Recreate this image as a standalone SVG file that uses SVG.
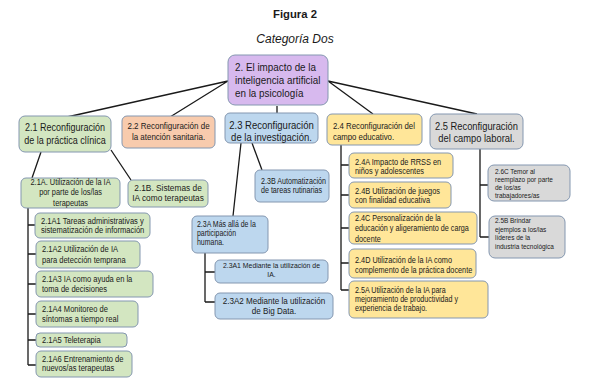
<svg xmlns="http://www.w3.org/2000/svg" width="590" height="389" viewBox="0 0 590 389">
<style>
text{font-family:"Liberation Sans",Arial,sans-serif;fill:#1a1a1a}
.n text{transform:scaleX(.85);transform-box:fill-box;transform-origin:left center}
.n text.c{transform-origin:center center}
.box{stroke:#8497b0;stroke-width:1}
.pu{fill:#d7b9ee}
.gr{fill:#d3e6c1}
.or{fill:#f8cbad}
.bl{fill:#bdd7ee}
.ye{fill:#ffe699}
.gy{fill:#d9d9d9}
.t0{font-size:11.6px}
.t1{font-size:10.6px}
.t2{font-size:9.2px}
.t3{font-size:8.7px}
.t4{font-size:8.9px}
.t5{font-size:8.4px}
.c{text-anchor:middle}
.ln{stroke:#1a1a1a;stroke-width:1.3;fill:none}
</style>
<text x="295" y="18" class="c" style="font-weight:bold;font-size:11.3px">Figura 2</text>
<text x="295" y="43" class="c" style="font-style:italic;font-size:12px">Categoría Dos</text>
<g id="connectors">
<path class="ln" d="M228,81 L67,117 M228,81 L170,117 M277,106 V113 M328,81 L373,114 M328,81 L477,114"/>
<path class="ln" d="M41,152 L32,178 M111,150 L131,180"/>
<path class="ln" d="M28,208 V365 M28,225 H35 M28,254 H36 M28,284 H36 M28,314 H36 M28,340 H36 M28,365 H36"/>
<path class="ln" d="M241,143 L233,216 M252,143 L262,170"/>
<path class="ln" d="M205,253 V302 M205,272 H215 M205,302 H215"/>
<path class="ln" d="M341,145 V290 M341,165 H349 M341,195 H349 M341,228 H349 M341,263 H349 M341,290 H349"/>
<path class="ln" d="M480,149 V237 M480,185 H488 M480,237 H489"/>
</g>
<g id="n2" class="n">
<rect class="box pu" x="228" y="55" width="100" height="50" rx="7"/>
<text class="t0"><tspan x="235" y="71.5">2. El impacto de la</tspan><tspan x="235" y="84.5">inteligencia artificial</tspan><tspan x="235" y="97.5">en la psicología</tspan></text>
</g>
<g id="n21" class="n">
<rect class="box gr" x="19" y="116" width="92" height="36" rx="6"/>
<text class="t1 c"><tspan x="65" y="131">2.1 Reconfiguración</tspan><tspan x="65" y="144">de la práctica clínica</tspan></text>
</g>
<g id="n22" class="n">
<rect class="box or" x="122" y="116" width="93" height="32" rx="5"/>
<text class="t2 c" style="font-size:9.4px"><tspan x="168.5" y="129.5">2.2 Reconfiguración de</tspan><tspan x="168.5" y="140">la atención sanitaria.</tspan></text>
</g>
<g id="n23" class="n">
<rect class="box bl" x="225" y="113" width="93" height="30" rx="5"/>
<text class="t1 c" style="font-size:11.2px"><tspan x="271.5" y="129">2.3 Reconfiguración</tspan><tspan x="271.5" y="141.5">de la investigación.</tspan></text>
</g>
<g id="n24" class="n">
<rect class="box ye" x="327" y="114" width="95" height="31" rx="5"/>
<text class="t2"><tspan x="333" y="129">2.4 Reconfiguración del</tspan><tspan x="333" y="140">campo educativo.</tspan></text>
</g>
<g id="n25" class="n">
<rect class="box gy" x="430" y="114" width="93" height="35" rx="6"/>
<text class="t1 c" style="font-size:11px"><tspan x="476.5" y="130">2.5 Reconfiguración</tspan><tspan x="476.5" y="142.5">del campo laboral.</tspan></text>
</g>
<g id="n21A" class="n">
<rect class="box gr" x="21" y="178" width="99" height="30" rx="5"/>
<text class="t3 c"><tspan x="70.5" y="185.5">2.1A. Utilización de la IA</tspan><tspan x="70.5" y="195.5">por parte de los/las</tspan><tspan x="70.5" y="206">terapeutas</tspan></text>
</g>
<g id="n21B" class="n">
<rect class="box gr" x="128" y="180" width="80" height="27" rx="5"/>
<text class="t3 c" style="font-size:9.8px"><tspan x="168" y="191.5">2.1B. Sistemas de</tspan><tspan x="168" y="201.5">IA como terapeutas</tspan></text>
</g>
<g id="n21A1" class="n">
<rect class="box gr" x="35" y="213" width="115" height="25" rx="5"/>
<text class="t4"><tspan x="41" y="224">2.1A1 Tareas administrativas y</tspan><tspan x="41" y="233">sistematización de información</tspan></text>
</g>
<g id="n21A2" class="n">
<rect class="box gr" x="36" y="241" width="104" height="27" rx="5"/>
<text class="t4"><tspan x="42" y="252">2.1A2 Utilización  de IA</tspan><tspan x="42" y="263">para detección  temprana</tspan></text>
</g>
<g id="n21A3" class="n">
<rect class="box gr" x="36" y="271" width="117" height="26" rx="5"/>
<text class="t4"><tspan x="42" y="282">2.1A3 IA como ayuda en la</tspan><tspan x="42" y="292">toma de decisiones</tspan></text>
</g>
<g id="n21A4" class="n">
<rect class="box gr" x="36" y="301" width="102" height="26" rx="5"/>
<text class="t4"><tspan x="42" y="312">2.1A4 Monitoreo de</tspan><tspan x="42" y="322">síntomas a tiempo real</tspan></text>
</g>
<g id="n21A5" class="n">
<rect class="box gr" x="36" y="333" width="91" height="14" rx="4"/>
<text class="t4"><tspan x="42" y="343">2.1A5 Teleterapia</tspan></text>
</g>
<g id="n21A6" class="n">
<rect class="box gr" x="36" y="351" width="96" height="26" rx="5"/>
<text class="t4"><tspan x="42" y="362">2.1A6 Entrenamiento de</tspan><tspan x="42" y="371.5">nuevos/as terapeutas</tspan></text>
</g>
<g id="n23B" class="n">
<rect class="box bl" x="255" y="170" width="74" height="32" rx="5"/>
<text class="t5"><tspan x="261" y="184.5">2.3B Automatización</tspan><tspan x="261" y="193.5">de tareas rutinarias</tspan></text>
</g>
<g id="n23A" class="n">
<rect class="box bl" x="192" y="216" width="76" height="37" rx="5"/>
<text class="t3" style="font-size:8.2px"><tspan x="197" y="227.5">2.3A Más allá de la</tspan><tspan x="197" y="236.5">participación</tspan><tspan x="197" y="245.5">humana.</tspan></text>
</g>
<g id="n23A1" class="n">
<rect class="box bl" x="215" y="260" width="113" height="23" rx="5"/>
<text class="t5 c" style="font-size:8.1px"><tspan x="271.5" y="268.5">2.3A1 Mediante la utilización de</tspan><tspan x="271.5" y="277">IA.</tspan></text>
</g>
<g id="n23A2" class="n">
<rect class="box bl" x="215" y="293" width="118" height="26" rx="5"/>
<text class="t3 c" style="font-size:9.5px"><tspan x="274" y="304.5">2.3A2 Mediante la utilización</tspan><tspan x="274" y="314">de Big Data.</tspan></text>
</g>
<g id="n24A" class="n">
<rect class="box ye" x="349" y="153" width="104" height="25" rx="5"/>
<text class="t3"><tspan x="355" y="165">2.4A Impacto de RRSS en</tspan><tspan x="355" y="174.5">niños y adolescentes</tspan></text>
</g>
<g id="n24B" class="n">
<rect class="box ye" x="349" y="182" width="102" height="26" rx="5"/>
<text class="t3"><tspan x="355" y="194">2.4B Utilización de juegos</tspan><tspan x="355" y="203">con finalidad educativa</tspan></text>
</g>
<g id="n24C" class="n">
<rect class="box ye" x="349" y="212" width="128" height="32" rx="5"/>
<text class="t3" style="font-size:8.5px"><tspan x="355" y="221.5">2.4C Personalización de la</tspan><tspan x="355" y="231.5">educación y aligeramiento de carga</tspan><tspan x="355" y="242">docente</tspan></text>
</g>
<g id="n24D" class="n">
<rect class="box ye" x="349" y="249" width="127" height="29" rx="5"/>
<text class="t3" style="font-size:8.6px"><tspan x="355" y="263">2.4D Utilización  de la IA como</tspan><tspan x="355" y="273">complemento de la práctica docente</tspan></text>
</g>
<g id="n25A" class="n">
<rect class="box ye" x="349" y="281" width="139" height="37" rx="5"/>
<text class="t3" style="font-size:8.4px"><tspan x="355" y="293.5">2.5A Utilización de la IA para</tspan><tspan x="355" y="302.5">mejoramiento de productividad y</tspan><tspan x="355" y="311.5">experiencia de trabajo.</tspan></text>
</g>
<g id="n26C" class="n">
<rect class="box gy" x="488" y="165" width="82" height="36" rx="6"/>
<text class="t5" style="font-size:7.6px"><tspan x="495" y="174">2.6C Temor al</tspan><tspan x="495" y="182.5">reemplazo por parte</tspan><tspan x="495" y="190.5">de los/as</tspan><tspan x="495" y="198.5">trabajadores/as</tspan></text>
</g>
<g id="n25B" class="n">
<rect class="box gy" x="489" y="216" width="76" height="42" rx="6"/>
<text class="t5" style="font-size:7.6px"><tspan x="495" y="223.5">2.5B Brindar</tspan><tspan x="495" y="232">ejemplos a los/las</tspan><tspan x="495" y="240.5">líderes de la</tspan><tspan x="495" y="249">industria tecnológica</tspan></text>
</g>
</svg>
